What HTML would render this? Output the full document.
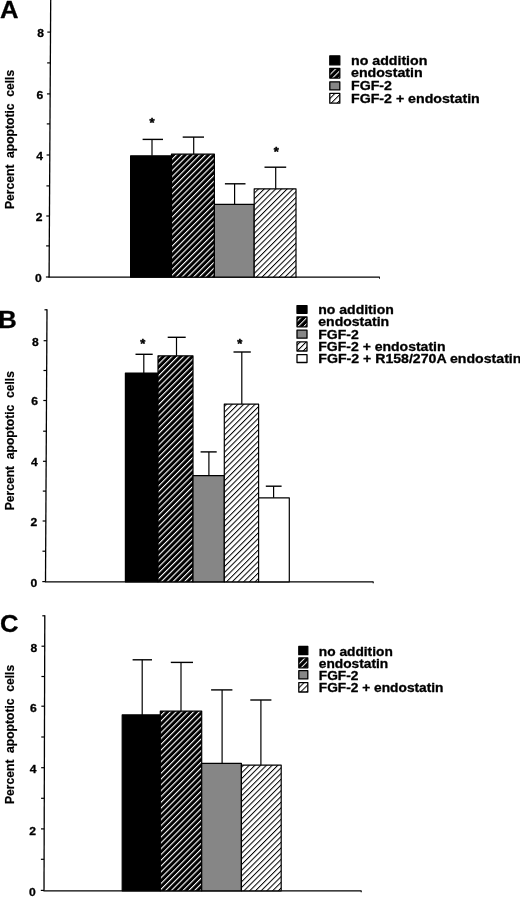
<!DOCTYPE html>
<html><head><meta charset="utf-8"><title>Percent apoptotic cells</title>
<style>html,body{margin:0;padding:0;background:#fff;}svg{display:block;}</style></head>
<body><svg width="520" height="901" viewBox="0 0 520 901" font-family="'Liberation Sans', Arial, sans-serif" font-weight="bold" fill="#000" stroke-linejoin="round">
<rect width="520" height="901" fill="#fff"/>
<defs>
<pattern id="hd" patternUnits="userSpaceOnUse" width="4.1" height="4.1" patternTransform="rotate(45)">
<rect width="4.1" height="4.1" fill="#000"/><rect x="0" y="0" width="1.1" height="4.1" fill="#fff"/></pattern>
<pattern id="hl" patternUnits="userSpaceOnUse" width="4.05" height="4.05" patternTransform="rotate(45)">
<rect width="4.05" height="4.05" fill="#fff"/><rect x="0" y="0" width="1.0" height="4.05" fill="#000"/></pattern>
<pattern id="hdl" patternUnits="userSpaceOnUse" width="4.2" height="4.2" patternTransform="rotate(45)">
<rect width="4.2" height="4.2" fill="#000"/><rect x="0" y="0" width="1.0" height="4.2" fill="#fff"/></pattern>
<pattern id="hll" patternUnits="userSpaceOnUse" width="4.2" height="4.2" patternTransform="rotate(45)">
<rect width="4.2" height="4.2" fill="#fff"/><rect x="0" y="0" width="1.0" height="4.2" fill="#000"/></pattern>
</defs>
<line x1="50.7" y1="-1" x2="49.1" y2="277.2" stroke="#000" stroke-width="1.3"/>
<line x1="47.30963335729691" y1="32.1" x2="50.50963335729691" y2="32.1" stroke="#000" stroke-width="1.2"/>
<line x1="47.13249460819554" y1="62.9" x2="50.332494608195546" y2="62.9" stroke="#000" stroke-width="1.2"/>
<line x1="46.95420560747664" y1="93.9" x2="50.15420560747664" y2="93.9" stroke="#000" stroke-width="1.2"/>
<line x1="46.78166786484543" y1="123.9" x2="49.981667864845434" y2="123.9" stroke="#000" stroke-width="1.2"/>
<line x1="46.60280373831775" y1="155" x2="49.802803738317756" y2="155" stroke="#000" stroke-width="1.2"/>
<line x1="46.42508986340762" y1="185.9" x2="49.625089863407624" y2="185.9" stroke="#000" stroke-width="1.2"/>
<line x1="46.25197699496765" y1="216" x2="49.45197699496765" y2="216" stroke="#000" stroke-width="1.2"/>
<line x1="46.080014378145215" y1="245.9" x2="49.28001437814522" y2="245.9" stroke="#000" stroke-width="1.2"/>
<line x1="45.90115025161754" y1="277" x2="49.10115025161754" y2="277" stroke="#000" stroke-width="1.2"/>
<text transform="translate(44.0,37.0) scale(1.1,1)" font-size="11" text-anchor="end" stroke="#000" stroke-width="0.3" >8</text>
<text transform="translate(43.2,98.6) scale(1.1,1)" font-size="11" text-anchor="end" stroke="#000" stroke-width="0.3" >6</text>
<text transform="translate(42.9,159.9) scale(1.1,1)" font-size="11" text-anchor="end" stroke="#000" stroke-width="0.3" >4</text>
<text transform="translate(42.4,221.0) scale(1.1,1)" font-size="11" text-anchor="end" stroke="#000" stroke-width="0.3" >2</text>
<text transform="translate(41.6,282.0) scale(1.1,1)" font-size="11" text-anchor="end" stroke="#000" stroke-width="0.3" >0</text>
<line x1="48.5" y1="277.2" x2="379.8" y2="277.2" stroke="#000" stroke-width="1.3"/>
<line x1="379.5" y1="277.2" x2="379.5" y2="278.7" stroke="#000" stroke-width="1.0"/>
<rect x="130.6" y="155.8" width="40.90" height="121.40" fill="#000" stroke="#000" stroke-width="1.2"/>
<rect x="171.5" y="154.2" width="42.90" height="123.00" fill="url(#hd)" stroke="#000" stroke-width="1.2"/>
<rect x="214.4" y="204.3" width="39.80" height="72.90" fill="#868686" stroke="#000" stroke-width="1.2"/>
<rect x="254.2" y="188.8" width="41.80" height="88.40" fill="url(#hl)" stroke="#000" stroke-width="1.2"/>
<line x1="152.0" y1="139.4" x2="152.0" y2="155.8" stroke="#000" stroke-width="1.2"/>
<line x1="142.6" y1="139.4" x2="163.0" y2="139.4" stroke="#000" stroke-width="1.4"/>
<line x1="193.7" y1="137.1" x2="193.7" y2="154.2" stroke="#000" stroke-width="1.2"/>
<line x1="182.7" y1="137.1" x2="204" y2="137.1" stroke="#000" stroke-width="1.4"/>
<line x1="234.6" y1="183.8" x2="234.6" y2="204.3" stroke="#000" stroke-width="1.2"/>
<line x1="224.9" y1="183.8" x2="245.5" y2="183.8" stroke="#000" stroke-width="1.4"/>
<line x1="275.7" y1="167.20000000000002" x2="275.7" y2="188.8" stroke="#000" stroke-width="1.2"/>
<line x1="264.5" y1="167.20000000000002" x2="286.2" y2="167.20000000000002" stroke="#000" stroke-width="1.4"/>
<text x="152.1" y="126.90" font-size="13" text-anchor="middle" stroke="#000" stroke-width="0.5">*</text>
<text x="276.4" y="156.40" font-size="13" text-anchor="middle" stroke="#000" stroke-width="0.5">*</text>
<text transform="translate(14.2,139.4) rotate(-90)" font-size="12.1" text-anchor="middle" stroke="#000" stroke-width="0.2" xml:space="preserve">Percent  apoptotic  cells</text>
<text transform="translate(0.0,18.4) scale(1.05,1)" font-size="24.4" text-anchor="start" stroke="#000" stroke-width="0.3" >A</text>
<rect x="329.8" y="55.8" width="10.00" height="9.10" fill="#000" stroke="#000" stroke-width="1.3"/>
<text transform="translate(351.0,64.7) scale(1.135,1)" font-size="12.5" text-anchor="start" stroke="#000" stroke-width="0.3" >no addition</text>
<rect x="329.8" y="68.3" width="10.00" height="9.80" fill="url(#hdl)" stroke="#000" stroke-width="1.3"/>
<text transform="translate(351.0,77.4) scale(1.135,1)" font-size="12.5" text-anchor="start" stroke="#000" stroke-width="0.3" >endostatin</text>
<rect x="329.8" y="81.8" width="10.00" height="8.10" fill="#868686" stroke="#000" stroke-width="1.3"/>
<text transform="translate(351.0,90.4) scale(1.135,1)" font-size="12.5" text-anchor="start" stroke="#000" stroke-width="0.3" >FGF-2</text>
<rect x="329.8" y="93.3" width="10.00" height="9.90" fill="url(#hll)" stroke="#000" stroke-width="1.3"/>
<text transform="translate(351.0,102.7) scale(1.135,1)" font-size="12.5" text-anchor="start" stroke="#000" stroke-width="0.3" >FGF-2 + endostatin</text>
<line x1="47.0" y1="309.2" x2="45.5" y2="581.8" stroke="#000" stroke-width="1.3"/>
<line x1="44.5" y1="309.8" x2="47.0" y2="309.8" stroke="#000" stroke-width="1.2"/>
<line x1="43.62666911225238" y1="340.7" x2="46.82666911225238" y2="340.7" stroke="#000" stroke-width="1.2"/>
<line x1="43.462692589875275" y1="370.5" x2="46.66269258987528" y2="370.5" stroke="#000" stroke-width="1.2"/>
<line x1="43.29761555392516" y1="400.5" x2="46.497615553925165" y2="400.5" stroke="#000" stroke-width="1.2"/>
<line x1="43.12868672046955" y1="431.2" x2="46.328686720469555" y2="431.2" stroke="#000" stroke-width="1.2"/>
<line x1="42.96305942773294" y1="461.3" x2="46.16305942773294" y2="461.3" stroke="#000" stroke-width="1.2"/>
<line x1="42.79908290535583" y1="491.1" x2="45.999082905355834" y2="491.1" stroke="#000" stroke-width="1.2"/>
<line x1="42.63455612619222" y1="521" x2="45.834556126192226" y2="521" stroke="#000" stroke-width="1.2"/>
<line x1="42.46837857666911" y1="551.2" x2="45.66837857666911" y2="551.2" stroke="#000" stroke-width="1.2"/>
<line x1="42.301100513573" y1="581.6" x2="45.501100513573" y2="581.6" stroke="#000" stroke-width="1.2"/>
<text transform="translate(38.6,345.6) scale(1.1,1)" font-size="11" text-anchor="end" stroke="#000" stroke-width="0.3" >8</text>
<text transform="translate(38.0,405.4) scale(1.1,1)" font-size="11" text-anchor="end" stroke="#000" stroke-width="0.3" >6</text>
<text transform="translate(37.6,466.2) scale(1.1,1)" font-size="11" text-anchor="end" stroke="#000" stroke-width="0.3" >4</text>
<text transform="translate(37.2,526.0) scale(1.1,1)" font-size="11" text-anchor="end" stroke="#000" stroke-width="0.3" >2</text>
<text transform="translate(37.2,586.6) scale(1.1,1)" font-size="11" text-anchor="end" stroke="#000" stroke-width="0.3" >0</text>
<line x1="44.9" y1="581.8" x2="373.5" y2="581.8" stroke="#000" stroke-width="1.3"/>
<line x1="373.2" y1="581.8" x2="373.2" y2="583.3" stroke="#000" stroke-width="1.0"/>
<rect x="125.4" y="373.0" width="32.60" height="208.80" fill="#000" stroke="#000" stroke-width="1.2"/>
<rect x="158" y="355.8" width="35.00" height="226.00" fill="url(#hd)" stroke="#000" stroke-width="1.2"/>
<rect x="193" y="475.7" width="31.30" height="106.10" fill="#868686" stroke="#000" stroke-width="1.2"/>
<rect x="224.3" y="404.1" width="34.30" height="177.70" fill="url(#hl)" stroke="#000" stroke-width="1.2"/>
<rect x="258.6" y="497.8" width="30.70" height="84.00" fill="#fff" stroke="#000" stroke-width="1.2"/>
<line x1="143.8" y1="354.29999999999995" x2="143.8" y2="373.0" stroke="#000" stroke-width="1.2"/>
<line x1="135.5" y1="354.29999999999995" x2="152.7" y2="354.29999999999995" stroke="#000" stroke-width="1.4"/>
<line x1="176.5" y1="337.29999999999995" x2="176.5" y2="355.8" stroke="#000" stroke-width="1.2"/>
<line x1="167.7" y1="337.29999999999995" x2="185.7" y2="337.29999999999995" stroke="#000" stroke-width="1.4"/>
<line x1="208.9" y1="451.9" x2="208.9" y2="475.7" stroke="#000" stroke-width="1.2"/>
<line x1="200.6" y1="451.9" x2="216.7" y2="451.9" stroke="#000" stroke-width="1.4"/>
<line x1="241.8" y1="352.0" x2="241.8" y2="404.1" stroke="#000" stroke-width="1.2"/>
<line x1="233.5" y1="352.0" x2="250.8" y2="352.0" stroke="#000" stroke-width="1.4"/>
<line x1="273.6" y1="486.2" x2="273.6" y2="497.8" stroke="#000" stroke-width="1.2"/>
<line x1="265.8" y1="486.2" x2="281.6" y2="486.2" stroke="#000" stroke-width="1.4"/>
<text x="142.7" y="347.80" font-size="13" text-anchor="middle" stroke="#000" stroke-width="0.5">*</text>
<text x="239.8" y="348.10" font-size="13" text-anchor="middle" stroke="#000" stroke-width="0.5">*</text>
<text transform="translate(14.2,440.7) rotate(-90)" font-size="12.1" text-anchor="middle" stroke="#000" stroke-width="0.2" xml:space="preserve">Percent  apoptotic  cells</text>
<text transform="translate(-1.8,327.6) scale(1.05,1)" font-size="24.4" text-anchor="start" stroke="#000" stroke-width="0.3" >B</text>
<rect x="297.0" y="305.6" width="10.00" height="7.70" fill="#000" stroke="#000" stroke-width="1.3"/>
<text transform="translate(318.3,313.6) scale(1.122,1)" font-size="12.5" text-anchor="start" stroke="#000" stroke-width="0.3" >no addition</text>
<rect x="297.0" y="317.0" width="10.00" height="9.80" fill="url(#hdl)" stroke="#000" stroke-width="1.3"/>
<text transform="translate(318.3,326.0) scale(1.122,1)" font-size="12.5" text-anchor="start" stroke="#000" stroke-width="0.3" >endostatin</text>
<rect x="297.0" y="330.2" width="10.00" height="8.00" fill="#868686" stroke="#000" stroke-width="1.3"/>
<text transform="translate(318.3,338.5) scale(1.122,1)" font-size="12.5" text-anchor="start" stroke="#000" stroke-width="0.3" >FGF-2</text>
<rect x="297.0" y="341.9" width="10.00" height="9.10" fill="url(#hll)" stroke="#000" stroke-width="1.3"/>
<text transform="translate(318.3,350.8) scale(1.122,1)" font-size="12.5" text-anchor="start" stroke="#000" stroke-width="0.3" >FGF-2 + endostatin</text>
<rect x="297.0" y="354.7" width="10.00" height="7.80" fill="#fff" stroke="#000" stroke-width="1.3"/>
<text transform="translate(318.3,363.0) scale(1.131,1)" font-size="12.5" text-anchor="start" stroke="#000" stroke-width="0.3" >FGF-2 + R158/270A endostatin</text>
<line x1="44.8" y1="615.2" x2="44.0" y2="890.8" stroke="#000" stroke-width="1.3"/>
<line x1="42.3" y1="615.8000000000001" x2="44.8" y2="615.8000000000001" stroke="#000" stroke-width="1.2"/>
<line x1="41.51001451378809" y1="646.2" x2="44.710014513788096" y2="646.2" stroke="#000" stroke-width="1.2"/>
<line x1="41.42206095791001" y1="676.5" x2="44.622060957910016" y2="676.5" stroke="#000" stroke-width="1.2"/>
<line x1="41.33584905660377" y1="706.2" x2="44.53584905660377" y2="706.2" stroke="#000" stroke-width="1.2"/>
<line x1="41.246444121915815" y1="737" x2="44.44644412191582" y2="737" stroke="#000" stroke-width="1.2"/>
<line x1="41.157329462989836" y1="767.7" x2="44.35732946298984" y2="767.7" stroke="#000" stroke-width="1.2"/>
<line x1="41.06850507982583" y1="798.3" x2="44.268505079825836" y2="798.3" stroke="#000" stroke-width="1.2"/>
<line x1="40.97968069666182" y1="828.9" x2="44.179680696661826" y2="828.9" stroke="#000" stroke-width="1.2"/>
<line x1="40.89143686502177" y1="859.3" x2="44.09143686502177" y2="859.3" stroke="#000" stroke-width="1.2"/>
<line x1="40.801161103047896" y1="890.4" x2="44.0011611030479" y2="890.4" stroke="#000" stroke-width="1.2"/>
<text transform="translate(37.2,651.8) scale(1.1,1)" font-size="11" text-anchor="end" stroke="#000" stroke-width="0.3" >8</text>
<text transform="translate(36.8,711.8) scale(1.1,1)" font-size="11" text-anchor="end" stroke="#000" stroke-width="0.3" >6</text>
<text transform="translate(36.4,773.2) scale(1.1,1)" font-size="11" text-anchor="end" stroke="#000" stroke-width="0.3" >4</text>
<text transform="translate(36.0,834.5) scale(1.1,1)" font-size="11" text-anchor="end" stroke="#000" stroke-width="0.3" >2</text>
<text transform="translate(35.8,896.0) scale(1.1,1)" font-size="11" text-anchor="end" stroke="#000" stroke-width="0.3" >0</text>
<line x1="43.4" y1="890.8" x2="361.5" y2="890.8" stroke="#000" stroke-width="1.3"/>
<line x1="361.2" y1="890.8" x2="361.2" y2="892.3" stroke="#000" stroke-width="1.0"/>
<rect x="122.2" y="714.9" width="38.10" height="175.90" fill="#000" stroke="#000" stroke-width="1.2"/>
<rect x="160.3" y="711.1" width="41.40" height="179.70" fill="url(#hd)" stroke="#000" stroke-width="1.2"/>
<rect x="201.7" y="763.4" width="39.70" height="127.40" fill="#868686" stroke="#000" stroke-width="1.2"/>
<rect x="241.4" y="765.1" width="39.80" height="125.70" fill="url(#hl)" stroke="#000" stroke-width="1.2"/>
<line x1="142.2" y1="659.8" x2="142.2" y2="714.9" stroke="#000" stroke-width="1.2"/>
<line x1="132.6" y1="659.8" x2="152.0" y2="659.8" stroke="#000" stroke-width="1.4"/>
<line x1="181.0" y1="662.4" x2="181.0" y2="711.1" stroke="#000" stroke-width="1.2"/>
<line x1="170.8" y1="662.4" x2="193.0" y2="662.4" stroke="#000" stroke-width="1.4"/>
<line x1="222.1" y1="689.9" x2="222.1" y2="763.4" stroke="#000" stroke-width="1.2"/>
<line x1="211.1" y1="689.9" x2="232.4" y2="689.9" stroke="#000" stroke-width="1.4"/>
<line x1="260.9" y1="700.0" x2="260.9" y2="765.1" stroke="#000" stroke-width="1.2"/>
<line x1="250.3" y1="700.0" x2="271.4" y2="700.0" stroke="#000" stroke-width="1.4"/>
<text transform="translate(14.2,734.4) rotate(-90)" font-size="12.1" text-anchor="middle" stroke="#000" stroke-width="0.2" xml:space="preserve">Percent  apoptotic  cells</text>
<text transform="translate(0.0,632.1) scale(1.05,1)" font-size="24.4" text-anchor="start" stroke="#000" stroke-width="0.3" >C</text>
<rect x="298.8" y="646.5" width="9.00" height="8.20" fill="#000" stroke="#000" stroke-width="1.3"/>
<text transform="translate(318.8,655.9) scale(1.135,1)" font-size="12.1" text-anchor="start" stroke="#000" stroke-width="0.3" >no addition</text>
<rect x="298.8" y="657.8" width="9.00" height="10.00" fill="url(#hdl)" stroke="#000" stroke-width="1.3"/>
<text transform="translate(318.8,667.8) scale(1.135,1)" font-size="12.1" text-anchor="start" stroke="#000" stroke-width="0.3" >endostatin</text>
<rect x="298.8" y="670.7" width="9.00" height="8.20" fill="#868686" stroke="#000" stroke-width="1.3"/>
<text transform="translate(318.8,679.6) scale(1.135,1)" font-size="12.1" text-anchor="start" stroke="#000" stroke-width="0.3" >FGF-2</text>
<rect x="298.8" y="682.6" width="9.00" height="9.40" fill="url(#hll)" stroke="#000" stroke-width="1.3"/>
<text transform="translate(318.8,691.8) scale(1.135,1)" font-size="12.1" text-anchor="start" stroke="#000" stroke-width="0.3" >FGF-2 + endostatin</text>
</svg></body></html>
